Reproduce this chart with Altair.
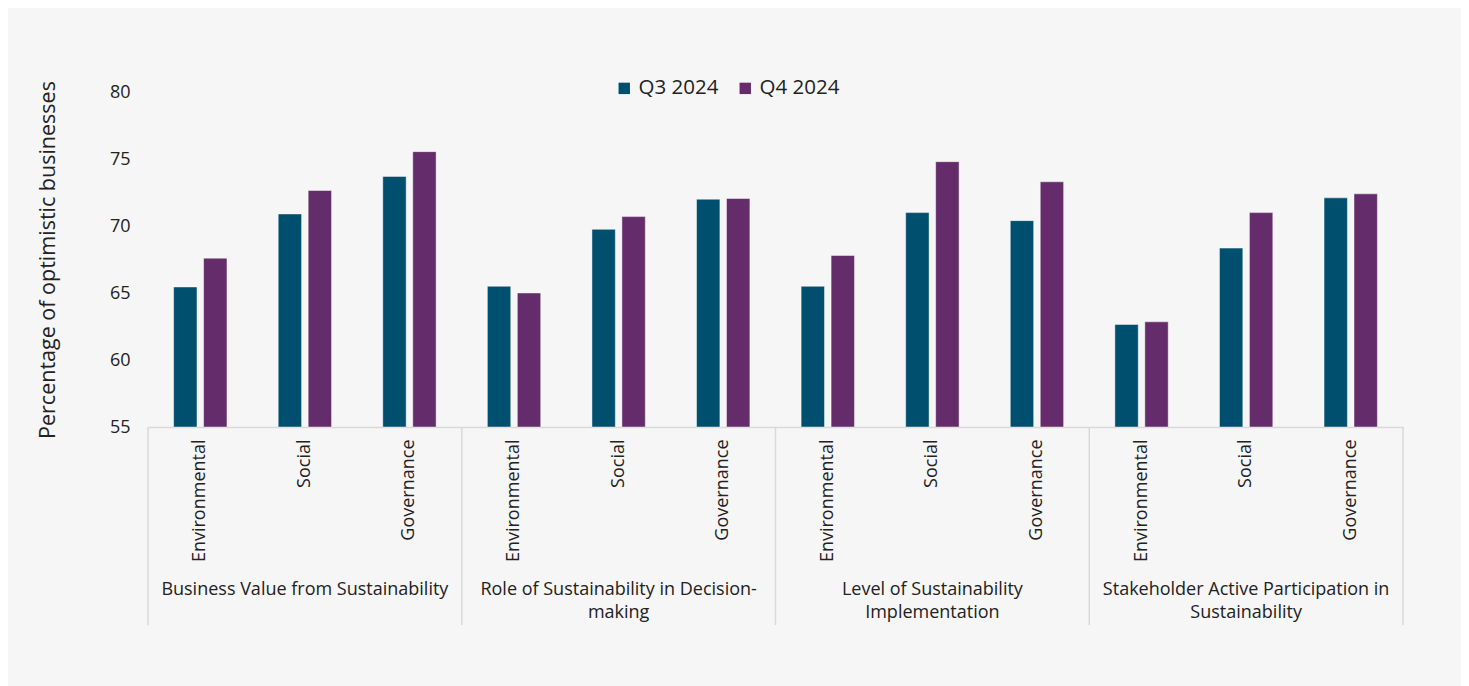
import altair as alt
import pandas as pd

groups = [
    "Business Value from Sustainability",
    "Role of Sustainability in Decision-\nmaking",
    "Level of Sustainability\nImplementation",
    "Stakeholder Active Participation in\nSustainability",
]
subs = ["Environmental", "Social", "Governance"]
series = ["Q3 2024", "Q4 2024"]
q3 = [65.45, 70.9, 73.7, 65.5, 69.75, 72.0, 65.5, 71.0, 70.4, 62.65, 68.35, 72.1]
q4 = [67.6, 72.65, 75.55, 65.0, 70.7, 72.05, 67.8, 74.8, 73.3, 62.85, 71.0, 72.4]
colors = ["#004F6E", "#642C6A"]

rows = []
keys = []
for gi, g in enumerate(groups):
    for si, s in enumerate(subs):
        k = f"{gi}|{s}"
        keys.append(k)
        idx = gi * 3 + si
        rows.append({"key": k, "series": series[0], "value": q3[idx]})
        rows.append({"key": k, "series": series[1], "value": q4[idx]})
df = pd.DataFrame(rows)

df_div = pd.DataFrame({"pos": list(range(len(groups) + 1))})
df_grp = pd.DataFrame({"pos": [i + 0.5 for i in range(len(groups))], "label": groups})

W, H = 1255, 335
FONT = "Open Sans"
TXT = "#222222"

bars = alt.Chart(df).mark_bar(stroke="white", strokeOpacity=0.45, strokeWidth=1).encode(
    x=alt.X("key:N", sort=keys, title=None,
            scale=alt.Scale(paddingInner=0.49, paddingOuter=0.245),
            axis=alt.Axis(labelExpr="split(datum.label, '|')[1]", labelAngle=-90,
                          labelAlign="right", labelBaseline="middle",
                          labelPadding=12, ticks=False, domainColor="#d9d9d9",
                          domainWidth=1.5, labelFontSize=18, labelColor=TXT,
                          labelFont=FONT)),
    xOffset=alt.XOffset("series:N", scale=alt.Scale(paddingInner=0.22, paddingOuter=0)),
    y=alt.Y("value:Q", scale=alt.Scale(domain=[55, 80], zero=False, nice=False),
            title="Percentage of optimistic businesses",
            axis=alt.Axis(values=[55, 60, 65, 70, 75, 80], ticks=False, grid=False,
                          domain=False, labelPadding=18, labelFontSize=18,
                          labelColor=TXT, labelFont=FONT, titleFont=FONT,
                          titleFontSize=21.5, titleFontWeight="normal",
                          titleColor=TXT, titlePadding=50)),
    y2=alt.datum(55),
    color=alt.Color("series:N", scale=alt.Scale(domain=series, range=colors),
                    legend=alt.Legend(title=None, orient="none", direction="horizontal",
                                      legendX=466, legendY=-14, symbolType="square",
                                      symbolSize=130, symbolStrokeWidth=0,
                                      labelFontSize=20.5, labelFont=FONT, labelColor=TXT,
                                      labelOffset=4, columnPadding=16, padding=0)),
)

rules = alt.Chart(df_div).mark_rule(color="#d9d9d9", strokeWidth=1.5).encode(
    x=alt.X("pos:Q", scale=alt.Scale(domain=[0, len(groups)]), axis=None),
    y=alt.value(H),
    y2=alt.value(H + 198),
)

glabels = alt.Chart(df_grp).mark_text(
    lineBreak="\n", fontSize=18, font=FONT, color=TXT, baseline="middle",
    lineHeight=23, align="center"
).encode(
    x=alt.X("pos:Q", scale=alt.Scale(domain=[0, len(groups)]), axis=None),
    y=alt.value(H + 163),
    text="label:N",
)

chart = alt.layer(bars, rules, glabels).resolve_scale(x="independent").properties(
    width=W, height=H,
    autosize=alt.AutoSizeParams(type="none"),
    padding={"left": 140, "top": 84, "right": 58, "bottom": 259},
    background="#f6f6f6",
).configure_view(stroke=None)

chart.save("out.html", embed_options={"renderer": "svg", "actions": False})
